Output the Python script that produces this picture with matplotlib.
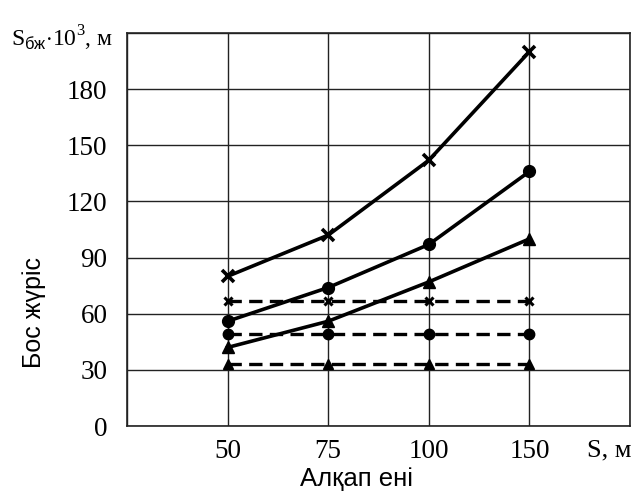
import matplotlib
matplotlib.use('Agg')
import matplotlib.pyplot as plt

# Data
widths = ['50', '75', '100', '150']
solid_x = [80, 102, 142, 200]
solid_o = [56, 74, 97, 136]
solid_t = [42, 56, 77, 100]
dash_x = [67, 67, 67, 67]
dash_o = [49, 49, 49, 49]
dash_t = [33, 33, 33, 33]
y_ticks = [0, 30, 60, 90, 120, 150, 180]

plt.rcParams['mathtext.fontset'] = 'custom'
plt.rcParams['mathtext.rm'] = 'Liberation Serif'
plt.rcParams['mathtext.sf'] = 'Liberation Sans'

fig = plt.figure(figsize=(6.38, 4.92), dpi=100)
ax = fig.add_axes([0.199, 0.134, 0.7885, 0.799])

pos = [1, 2, 3, 4]
ax.plot(pos, solid_x, '-', color='black', lw=2.6, marker='x', ms=8, mew=2.6)
ax.plot(pos, solid_o, '-', color='black', lw=2.6, marker='o', ms=8.5)
ax.plot(pos, solid_t, '-', color='black', lw=2.6, marker='^', ms=8.5)
dash = (0, (4, 2.2))
ax.plot(pos, dash_x, color='black', lw=2.4, ls=dash, marker='x', ms=6, mew=2.2)
ax.plot(pos, dash_o, color='black', lw=2.4, ls=dash, marker='o', ms=7.5)
ax.plot(pos, dash_t, color='black', lw=2.4, ls=dash, marker='^', ms=7.5)

ax.set_xlim(0, 5)
ax.set_ylim(0, 210)
ax.set_xticks(range(0, 6))
ax.set_xticklabels([''] + widths + [''])
ax.set_yticks(y_ticks + [210])
ax.set_yticklabels([str(v) for v in y_ticks] + [''])
ax.grid(True, color='#222222', lw=1.0)
ax.set_axisbelow(True)
for s in ax.spines.values():
    s.set_color('#222222')
    s.set_linewidth(1.2)
ax.tick_params(length=0, labelsize=19.5)
for lab in ax.get_xticklabels() + ax.get_yticklabels():
    lab.set_fontfamily('Liberation Serif')
ax.tick_params(axis='y', pad=14)
ax.tick_params(axis='x', pad=9)

ax.set_xlabel('Алқап ені', fontsize=18.5, family='Liberation Sans')
ax.xaxis.set_label_coords(0.457, -0.105)
ax.set_ylabel('Бос жүріс', fontsize=18, family='Liberation Sans')
ax.yaxis.set_label_coords(-0.16, 0.29)

fig.text(0.017, 0.906, r'$\mathrm{S}_{\mathsf{бж}}{\cdot}10^3$, м',
         fontsize=17, family='Liberation Serif', va='baseline')
fig.text(0.92, 0.072, 'S, м', fontsize=19, family='Liberation Serif')

fig.savefig('out.png', dpi=100)
